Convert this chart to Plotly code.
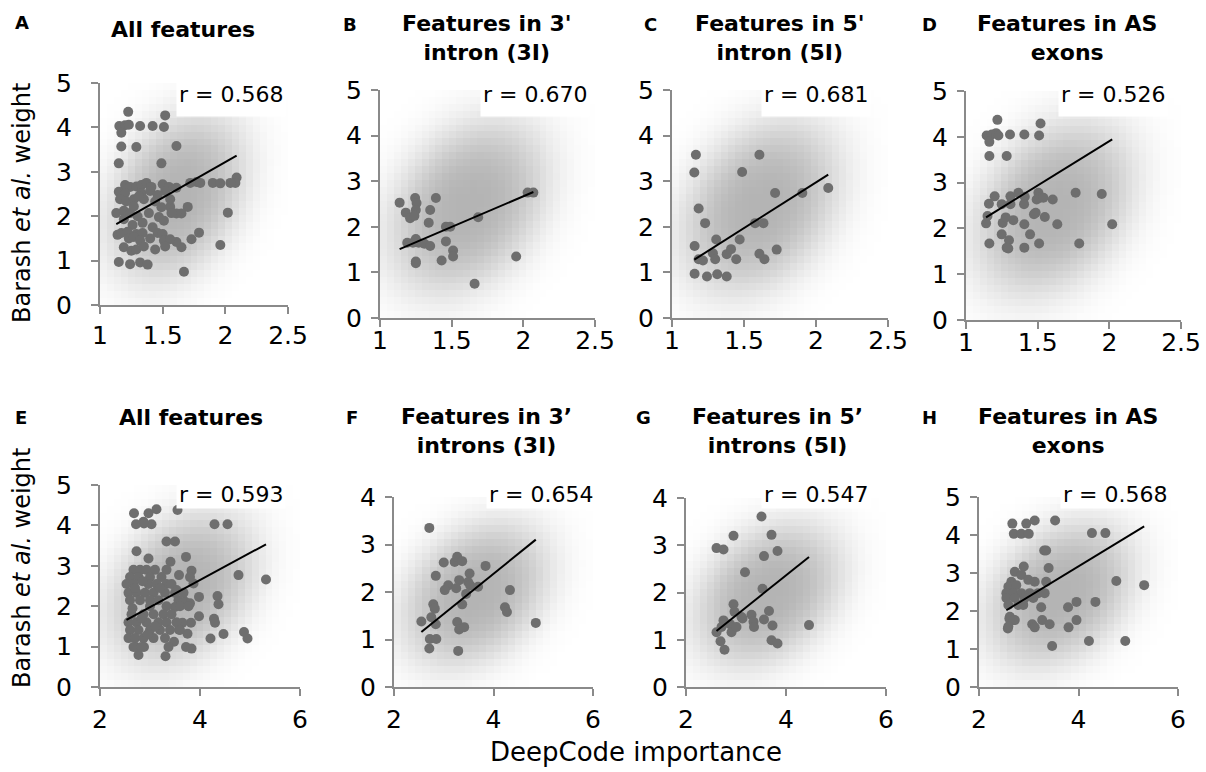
import numpy as np
import plotly.graph_objects as go

# ------------------------------------------------------------------ data
# (DeepCode importance, Barash et al. weight)
A_points = [(1.225,4.35),(1.154,4.03),(1.20,4.05),(1.23,4.06),(1.17,3.88),(1.32,4.03),(1.42,4.03),
            (1.52,4.27),(1.51,4.01),(1.17,3.57),(1.29,3.56),(1.61,3.58),(1.15,3.19),(1.49,3.19),
            (2.09,2.87),(2.08,2.75),(2.04,2.75),(1.90,2.75),(1.96,2.74),(1.77,2.77),(1.80,2.75),
            (1.72,2.75),(2.02,2.08),(1.96,1.35),(1.79,1.63),(1.73,1.48),(1.70,2.21),(1.65,2.06),
            (1.61,2.06),(1.65,1.30),(1.61,1.42),(1.67,0.75),(1.56,2.21),
            (1.20,2.70),(1.24,2.66),(1.29,2.67),(1.33,2.70),(1.37,2.75),(1.41,2.66),(1.50,2.72),
            (1.55,2.66),(1.61,2.64),(1.15,2.55),(1.20,2.52),(1.33,2.52),(1.40,2.57),(1.52,2.57),
            (1.16,2.38),(1.21,2.33),(1.27,2.38),(1.35,2.38),(1.44,2.33),(1.56,2.38),
            (1.13,2.07),(1.19,2.12),(1.24,2.07),(1.39,2.07),(1.49,2.20),(1.57,2.07),
            (1.47,1.98),(1.51,1.90),(1.19,1.93),(1.30,2.00),(1.34,1.85),(1.26,1.80),(1.14,1.58),
            (1.42,1.75),(1.27,2.22),(1.31,2.45),(1.46,2.48),
            (1.17,1.62),(1.22,1.65),(1.29,1.60),(1.34,1.62),(1.46,1.62),(1.50,1.60),
            (1.23,1.50),(1.27,1.53),(1.32,1.45),(1.40,1.50),(1.51,1.45),(1.56,1.48),
            (1.19,1.30),(1.25,1.22),(1.29,1.25),(1.35,1.32),(1.44,1.25),(1.52,1.32),
            (1.15,0.97),(1.24,0.92),(1.32,0.96),(1.38,0.91)]
B_points = [(1.137,2.53),(1.18,2.31),(1.21,2.19),(1.245,2.63),(1.255,2.52),(1.25,2.37),(1.24,2.24),
            (1.39,2.63),(1.35,2.37),(1.34,2.09),(1.19,1.65),(1.23,1.65),(1.27,1.65),(1.31,1.63),
            (1.35,1.58),(1.25,1.73),(1.46,1.68),(1.46,2.00),(1.49,2.00),(1.51,1.48),(1.51,1.35),
            (1.43,1.26),(1.25,1.24),(1.25,1.20),(1.685,2.21),(2.03,2.75),(2.07,2.75),(1.95,1.35),
            (1.66,0.75)]
C_points = [(1.166,3.58),(1.155,3.19),(1.185,2.40),(1.23,2.08),(1.157,1.58),(1.185,1.29),(1.215,1.26),
            (1.307,1.72),(1.284,1.42),(1.30,1.29),(1.38,1.40),(1.41,1.51),(1.446,1.29),(1.47,1.72),
            (1.487,3.20),(1.157,0.97),(1.243,0.91),(1.314,0.96),(1.38,0.91),(1.607,3.58),(1.577,2.08),
            (1.635,2.08),(1.607,1.41),(1.642,1.29),(1.727,1.50),(1.716,2.74),(1.905,2.74),(2.085,2.85)]
D_points = [(1.219,4.37),(1.144,4.03),(1.18,4.05),(1.21,4.08),(1.226,4.03),(1.163,3.89),(1.307,4.05),
            (1.407,4.05),(1.52,4.29),(1.51,4.03),(1.163,3.58),(1.284,3.58),(1.765,2.78),(1.947,2.75),
            (1.605,2.63),(2.02,2.09),(1.79,1.67),(1.637,2.09),(1.55,2.25),(1.51,1.67),(1.447,1.87),
            (1.474,2.31),(1.486,2.34),(1.407,2.09),(1.407,1.58),(1.30,1.74),(1.284,1.58),(1.295,1.56),
            (1.249,1.87),(1.256,2.12),(1.277,2.24),(1.33,2.18),(1.163,1.67),(1.14,2.11),(1.15,2.27),
            (1.16,2.54),(1.20,2.70),(1.249,2.53),(1.31,2.70),(1.31,2.53),(1.365,2.78),(1.41,2.69),
            (1.405,2.53),(1.505,2.78),(1.493,2.63),(1.516,2.67),(1.54,2.67)]
E_points = [(2.68,4.30),(2.72,4.03),(2.87,4.09),(2.97,4.30),(3.03,4.03),(3.13,4.40),(2.88,4.05),
            (3.55,4.38),(4.29,4.03),(4.55,4.03),(2.73,3.36),(3.33,3.60),(3.50,3.60),(3.72,3.22),
            (3.41,3.10),(2.97,3.18),(3.83,2.88),(3.58,2.77),(4.77,2.77),(5.32,2.66),(3.87,2.56),
            (3.98,2.23),(4.35,2.25),(4.37,2.05),(3.98,1.75),(4.28,1.69),(4.30,1.59),(4.21,1.20),
            (4.47,1.31),(4.88,1.36),(4.95,1.20),(3.82,1.59),(3.75,1.32),(3.72,0.99),(3.83,0.95),
            (3.65,1.59),(3.48,1.12),(3.58,1.42),(3.31,0.76),(2.77,0.79),(2.72,0.99),(2.88,0.99),
            (3.57,2.15),(3.70,2.11),(3.80,2.07),(3.53,2.40),(3.50,1.98),
            (2.67,2.90),(2.80,2.90),(2.93,2.90),(3.10,2.90),(3.33,2.90),
            (2.60,2.72),(2.77,2.72),(3.00,2.72),(3.23,2.72),(3.80,2.72),
            (2.53,2.55),(2.67,2.55),(2.97,2.55),(3.13,2.55),(3.33,2.55),(3.43,2.55),
            (2.57,2.33),(2.73,2.33),(2.90,2.33),(3.07,2.33),(3.30,2.33),(3.50,2.33),(3.67,2.33),
            (2.60,2.15),(2.80,2.15),(3.00,2.15),(3.17,2.15),
            (3.00,2.00),(3.33,2.00),(3.60,2.00),(3.77,2.00),
            (2.63,1.80),(2.87,1.80),(3.07,1.80),(3.27,1.80),(3.43,1.80),
            (2.57,1.60),(2.73,1.60),(2.93,1.60),(3.17,1.60),(3.33,1.60),(3.53,1.60),
            (2.60,1.41),(2.77,1.41),(3.00,1.41),(3.20,1.41),(3.40,1.41),(3.60,1.41),
            (2.57,1.21),(2.70,1.21),(2.87,1.21),(3.07,1.21),(3.30,1.21),
            (2.67,0.99),(2.83,0.99),(3.37,0.99),
            (2.70,2.45),(2.85,2.62),(3.20,2.45),(2.65,1.95),(2.83,1.70),(3.10,1.50),(2.95,1.30)]
F_points = [(2.71,3.35),(3.00,2.62),(3.22,2.63),(3.27,2.74),(3.37,2.65),(3.84,2.55),(2.84,2.34),
            (3.52,2.39),(3.31,2.25),(3.49,2.21),(3.53,2.14),(3.09,2.14),(3.02,2.04),(3.25,2.08),
            (3.45,1.96),(3.69,2.11),(4.33,2.04),(4.23,1.68),(4.27,1.58),(4.85,1.35),(3.37,1.74),
            (2.79,1.74),(2.82,1.65),(2.75,1.47),(2.84,1.32),(2.55,1.38),(3.27,1.37),(3.31,1.21),
            (3.41,1.26),(2.72,1.01),(2.85,1.01),(2.71,0.81),(3.29,0.76)]
G_points = [(3.51,3.61),(3.71,3.22),(2.95,3.20),(2.61,2.94),(2.75,2.91),(3.83,2.88),(3.56,2.77),
            (3.18,2.43),(3.53,2.08),(2.95,1.75),(2.97,1.59),(3.11,1.48),(3.13,1.45),(3.31,1.53),
            (3.35,1.38),(3.36,1.27),(3.66,1.61),(3.56,1.43),(3.73,1.30),(3.71,0.99),(3.83,0.92),
            (4.46,1.31),(2.75,1.41),(2.71,1.27),(2.88,1.33),(2.91,1.16),(3.01,1.27),(2.61,1.16),
            (2.69,0.97),(2.77,0.79)]
H_points = [(2.67,4.30),(2.70,4.03),(2.85,4.03),(2.95,4.30),(3.00,4.03),(3.12,4.38),(3.53,4.38),
            (4.27,4.05),(4.54,4.05),(3.31,3.59),(3.35,3.59),(3.40,3.13),(2.90,3.17),(4.76,2.79),
            (5.32,2.68),(3.25,2.10),(3.79,2.10),(3.96,2.24),(4.34,2.24),(3.27,1.76),(3.96,1.76),
            (3.42,1.65),(3.80,1.57),(3.07,1.65),(3.12,1.57),(3.47,1.08),(4.21,1.21),(4.94,1.21),
            (2.58,1.54),(2.61,1.80),(2.72,1.76),(2.88,2.18),
            (2.72,3.03),(2.85,2.95),(2.99,2.82),(3.12,2.77),(3.35,2.77),(2.65,2.77),(2.59,2.64),
            (2.75,2.68),(2.55,2.47),(2.69,2.47),(2.85,2.47),(3.02,2.47),(3.19,2.47),(3.32,2.47),
            (2.55,2.34),(2.72,2.34),(2.92,2.34),(3.09,2.34),(2.59,2.16),(2.79,2.16),(2.89,2.16),
            (2.62,1.85),(2.69,1.76),(2.59,1.59)]

fit_slope = [1.61, 1.343, 2.006, 1.937, 0.670, 0.846, 0.847, 0.796]
fit_intercept = [0.00, -0.017, -1.037, 0.032, -0.032, -1.00, -1.025, -0.01]
r_labels = ["r = 0.568", "r = 0.670", "r = 0.681", "r = 0.526",
            "r = 0.593", "r = 0.654", "r = 0.547", "r = 0.568"]
panel_letters = ["A", "B", "C", "D", "E", "F", "G", "H"]
panel_titles = ["All features", "Features in 3'<br>intron (3I)", "Features in 5'<br>intron (5I)",
                "Features in AS<br>exons", "All features", "Features in 3’<br>introns (3I)",
                "Features in 5’<br>introns (5I)", "Features in AS<br>exons"]
x_ticks_top = [1, 1.5, 2, 2.5]
x_ticks_bottom = [2, 4, 6]
y_ticks_5 = [0, 1, 2, 3, 4, 5]
y_ticks_4 = [0, 1, 2, 3, 4]
y_title = "Barash <i>et al.</i> weight"
x_title = "DeepCode importance"

all_points = [A_points, B_points, C_points, D_points, E_points, F_points, G_points, H_points]
x_ticks = [x_ticks_top] * 4 + [x_ticks_bottom] * 4
y_ticks = [y_ticks_5] * 5 + [y_ticks_4] * 2 + [y_ticks_5]

# ------------------------------------------------------------------ layout / style
W, H = 1206, 772
FONT = "DejaVu Sans"
AX = "#8a8a8a"
DOT = "#6e6e6e"
# plot boxes in pixels: left, right, top, bottom
boxes = [(100, 288, 83, 305), (380, 595, 90, 318), (672, 888, 90, 318), (966, 1181, 91, 320),
         (100, 300, 485, 687), (394, 593, 497, 687), (686, 886, 498, 687), (979, 1178, 497, 687)]
x_stand = [0, -8, -8, -8, 2, 2, 2, 2]
y_stand = [14, 4, 4, 4, 14, 4, 4, 4]
letter_pos = [(22, 23), (350, 24), (650, 24), (929, 24), (21, 417), (352, 417), (643, 417), (929, 417)]
title_pos = [(183, 29), (487, 38), (780, 38), (1067, 38), (191, 417), (486, 431), (778, 431), (1068, 431)]
r_pos = [(286, 79), (590, 79), (871, 79), (1168, 79), (286, 479), (596, 479), (871, 479), (1170, 479)]
r_box_h = [32, 32, 32, 32, 24, 24, 24, 24]


def blob(nx, ny):
    u = (np.arange(nx) + 0.5) / nx
    v = (np.arange(ny) + 0.5) / ny
    U, V = np.meshgrid(u, v)
    du, dv = U - 0.41, V - 0.49
    th = np.deg2rad(48)
    a = du * np.cos(th) + dv * np.sin(th)
    b = -du * np.sin(th) + dv * np.cos(th)
    r = np.sqrt((a / 0.62) ** 2 + (b / 0.45) ** 2)
    return np.exp(-3 * r ** 3)


fig = go.Figure()
layout = dict(width=W, height=H, margin=dict(l=0, r=0, t=0, b=0, autoexpand=False),
              paper_bgcolor="white", plot_bgcolor="white", showlegend=False,
              font=dict(family=FONT, color="black"))
annotations = []

for i, pts in enumerate(all_points):
    k = "" if i == 0 else str(i + 1)
    xa, ya = "x" + k, "y" + k
    x0, x1, yt, yb = boxes[i]
    xr = [x_ticks[i][0], x_ticks[i][-1]]
    yr = [y_ticks[i][0], y_ticks[i][-1]]
    px = [p[0] for p in pts]
    py = [p[1] for p in pts]

    # soft grey background glow
    nx, ny = max(8, round((x1 - x0) / 7)), max(8, round((yb - yt) / 7))
    gx = xr[0] + (np.arange(nx) + 0.5) * (xr[1] - xr[0]) / nx
    gy = yr[0] + (np.arange(ny) + 0.5) * (yr[1] - yr[0]) / ny
    fig.add_trace(go.Heatmap(x=gx, y=gy, z=blob(nx, ny), xaxis=xa, yaxis=ya, zmin=0, zmax=1,
                             colorscale=[[0, "rgb(255,255,255)"], [1, "rgb(180,180,180)"]],
                             showscale=False, hoverinfo="skip", zsmooth=False))
    fig.add_trace(go.Scatter(x=px, y=py, mode="markers", xaxis=xa, yaxis=ya,
                             marker=dict(color=DOT, size=10, line=dict(width=0))))
    lx = np.array([min(px), max(px)])
    fig.add_trace(go.Scatter(x=lx, y=fit_slope[i] * lx + fit_intercept[i], mode="lines",
                             xaxis=xa, yaxis=ya, line=dict(color="black", width=2)))

    common = dict(showline=True, linecolor=AX, linewidth=2, ticks="outside", ticklen=7,
                  tickwidth=2, tickcolor=AX, showgrid=False, zeroline=False, fixedrange=True,
                  automargin=False, tickfont=dict(family=FONT, size=25, color="black"))
    layout["xaxis" + k] = dict(domain=[x0 / W, x1 / W], range=xr, tickvals=x_ticks[i],
                               anchor=ya, ticklabelstandoff=x_stand[i], **common)
    layout["yaxis" + k] = dict(domain=[1 - yb / H, 1 - yt / H], range=yr, tickvals=y_ticks[i],
                               anchor=xa, ticklabelstandoff=y_stand[i], **common)

    lxp, lyp = letter_pos[i]
    annotations.append(dict(text="<b>%s</b>" % panel_letters[i], x=lxp / W, y=1 - lyp / H,
                            xref="paper", yref="paper", showarrow=False, xanchor="center",
                            yanchor="middle", font=dict(family=FONT, size=18, color="black")))
    txp, typ = title_pos[i]
    annotations.append(dict(text="<b>%s</b>" % panel_titles[i], x=txp / W, y=1 - typ / H,
                            xref="paper", yref="paper", showarrow=False, xanchor="center",
                            yanchor="middle", align="center",
                            font=dict(family=FONT, size=22, color="black")))
    rxp, ryp = r_pos[i]
    annotations.append(dict(text=r_labels[i], x=rxp / W, y=1 - ryp / H, xref="paper",
                            yref="paper", showarrow=False, xanchor="right", yanchor="top",
                            bgcolor="white", borderpad=2, height=r_box_h[i], valign="top",
                            font=dict(family=FONT, size=22, color="black")))

for cy in (203, 568):
    annotations.append(dict(text=y_title, x=22 / W, y=1 - cy / H, xref="paper", yref="paper",
                            showarrow=False, textangle=-90, xanchor="center", yanchor="middle",
                            font=dict(family=FONT, size=24, color="black")))
annotations.append(dict(text=x_title, x=636 / W, y=1 - 752 / H, xref="paper", yref="paper",
                        showarrow=False, xanchor="center", yanchor="middle",
                        font=dict(family=FONT, size=26, color="black")))

layout["annotations"] = annotations
fig.update_layout(**layout)
fig.write_html("out.html", config={"displayModeBar": False},
               post_script="document.body.style.margin='0';document.body.style.overflow='hidden';")
